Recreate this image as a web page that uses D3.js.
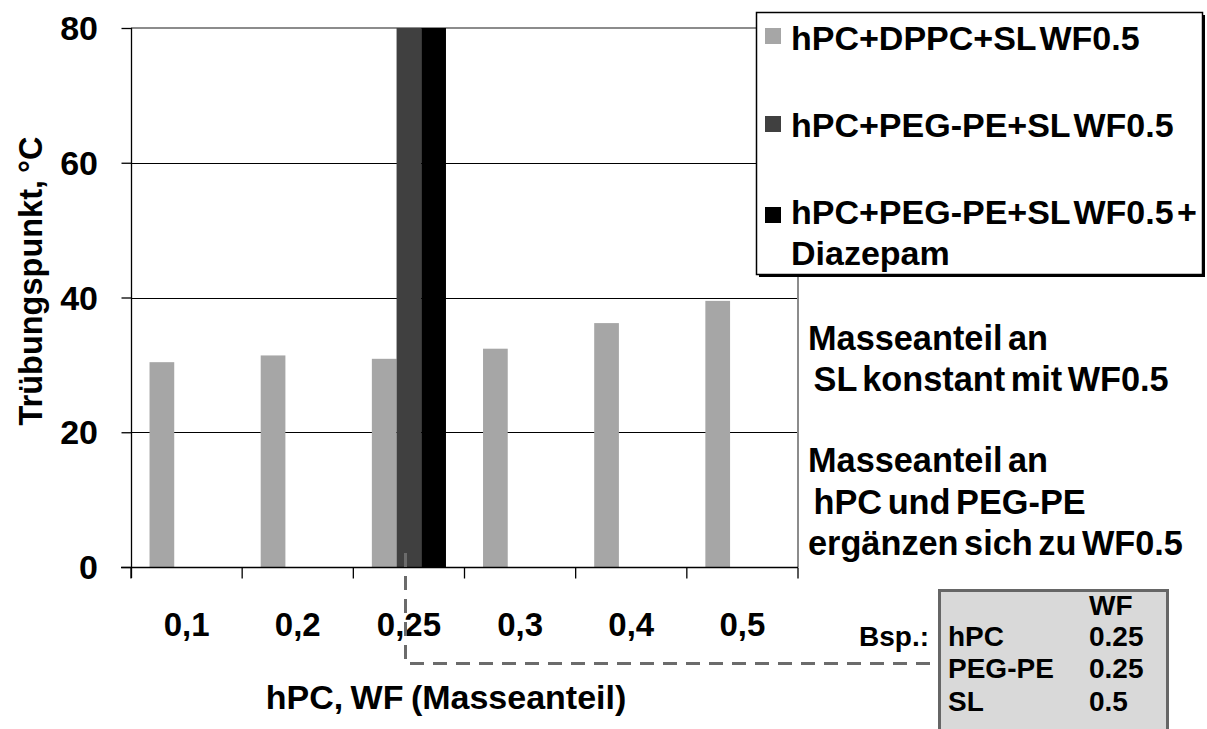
<!DOCTYPE html>
<html><head><meta charset="utf-8">
<script src="https://cdn.jsdelivr.net/npm/d3@7"></script>
<style>
html,body{margin:0;padding:0;background:#fff;}
svg{display:block;font-family:"Liberation Sans",Arial,sans-serif;font-weight:bold;}
</style></head>
<body>
<svg id="chart" width="1207" height="729"></svg>
<script>
const categories = ["0,1","0,2","0,25","0,3","0,4","0,5"];
const seriesNames = ["hPC+DPPC+SL WF0.5","hPC+PEG-PE+SL WF0.5","hPC+PEG-PE+SL WF0.5 + Diazepam"];
const dpccValues = [30.4, 31.4, 30.9, 32.4, 36.2, 39.5];
const pegValues = [null, null, 80, null, null, null];
const diazValues = [null, null, 80, null, null, null];
const seriesColors = ["#a6a6a6","#404040","#000000"];
const yTicks = [0,20,40,60,80];
const yTitle = "Trübungspunkt, °C";
const xTitle = "hPC, WF (Masseanteil)";
const notes = ["Masseanteil an"," SL konstant mit WF0.5","Masseanteil an"," hPC und PEG-PE","ergänzen sich zu WF0.5"];
const tableHeader = ["", "WF"];
const tableRows = [["hPC","0.25"],["PEG-PE","0.25"],["SL","0.5"]];
const exampleLabel = "Bsp.:";

(function(){
const svg = d3.select("#chart");
function stext(parent, x, y, str, size, anchor, ws){
  return parent.append("text").attr("x",x).attr("y",y).attr("font-size",size)
    .attr("text-anchor",anchor||"start").attr("fill","#000")
    .attr("word-spacing", ws==null ? -3 : ws)
    .attr("xml:space","preserve").text(str);
}

const pL = 131, pR = 798, pT = 28, pB = 567;
const x = d3.scaleBand().domain(categories).range([pL, pR]).paddingInner(0).paddingOuter(0);
const bw = x.bandwidth();
const gap = bw * 1.5 / 4.5;
const xs = d3.scaleBand().domain(d3.range(3)).range([gap/2, bw - gap/2]);
const y = d3.scaleLinear().domain([0,80]).range([pB, pT]);

// gridlines
svg.append("g").selectAll("line").data(yTicks.filter(t => t>0 && t<80)).join("line")
  .attr("x1", pL).attr("x2", pR).attr("y1", d=>Math.round(y(d))+0.5).attr("y2", d=>Math.round(y(d))+0.5)
  .attr("stroke","#000").attr("stroke-width",1);
// plot area border (top & right)
svg.append("path").attr("d",`M${pL},${y(80)}H${pR}V${pB}`).attr("fill","none")
  .attr("stroke","#8c8c8c").attr("stroke-width",2);

// bars
const allSeries = [dpccValues, pegValues, diazValues];
allSeries.forEach((vals, si) => {
  svg.append("g").selectAll("rect").data(categories.map((c,i)=>({c, v: vals[i]})).filter(d=>d.v!=null)).join("rect")
    .attr("x", d => x(d.c) + xs(si)).attr("width", xs.bandwidth())
    .attr("y", d => y(d.v)).attr("height", d => y(0) - y(d.v))
    .attr("fill", seriesColors[si]);
});

// y axis
const yAxis = d3.axisLeft(y).tickValues(yTicks).tickSize(10).tickFormat("");
const ya = svg.append("g").attr("transform",`translate(${pL+0.5},0)`).call(yAxis);
ya.select(".domain").attr("d",`M0,${pT}V${pB+11}`).attr("stroke","#000").attr("stroke-width",1.3);
ya.selectAll(".tick line").attr("stroke","#000").attr("stroke-width",1.3);
yTicks.forEach(t => stext(svg, 98, y(t)+12, String(t), 34, "end"));

// x axis
const xa = svg.append("g").attr("transform",`translate(0,${pB+0.5})`);
const bounds = categories.map(c => x(c)).concat([pR]);
xa.append("line").attr("x1", pL-10).attr("x2", pR).attr("y1",0).attr("y2",0).attr("stroke","#000").attr("stroke-width",1.3);
xa.selectAll("line.tk").data(bounds).join("line").attr("class","tk")
  .attr("x1",d=>d).attr("x2",d=>d).attr("y1",0).attr("y2",11).attr("stroke","#000").attr("stroke-width",1.3);
categories.forEach(c => stext(svg, x(c)+bw/2, 636, c, 33, "middle"));

// axis titles
stext(svg, 446, 709, xTitle, 34, "middle", -2);
svg.append("text").attr("transform","translate(42,281) rotate(-90)")
  .attr("font-size",32.5).attr("text-anchor","middle").attr("word-spacing",-2).text(yTitle);

// dashed connector
svg.append("path").attr("d","M405.5,553V663.5H933").attr("fill","none")
  .attr("stroke","#6b6b6b").attr("stroke-width",3).attr("stroke-dasharray","14,9");

// legend
const lg = svg.append("g");
lg.append("rect").attr("x",759).attr("y",15).attr("width",446).attr("height",262).attr("fill","#000");
lg.append("rect").attr("x",756.5).attr("y",12.5).attr("width",446).attr("height",262).attr("fill","#fff").attr("stroke","#000").attr("stroke-width",1.5);
const legY = [50, 137, 224];
const mkY = [28, 116, 207];
seriesNames.forEach((n,i) => {
  lg.append("rect").attr("x",765).attr("y",mkY[i]).attr("width",16).attr("height",16).attr("fill",seriesColors[i]);
});
stext(lg, 791, legY[0], seriesNames[0], 34, "start", -6);
stext(lg, 791, legY[1], seriesNames[1], 34, "start", -6);
stext(lg, 791, legY[2], "hPC+PEG-PE+SL WF0.5 +", 34, "start", -6);
stext(lg, 791, 265, "Diazepam", 34, "start", -6);

// notes
const noteY = [350, 391, 472, 514, 555];
notes.forEach((n,i) => stext(svg, 808, noteY[i], n, 34.3, "start", -4));

// example table
svg.append("rect").attr("x",939.5).attr("y",590.5).attr("width",228).attr("height",160)
  .attr("fill","#d9d9d9").attr("stroke","#666").attr("stroke-width",3);
stext(svg, 929, 646, exampleLabel, 28, "end");
const rowY = [615, 646, 678, 711];
stext(svg, 1089, rowY[0], tableHeader[1], 28);
tableRows.forEach((r,i) => {
  stext(svg, 948, rowY[i+1], r[0], 28);
  stext(svg, 1089, rowY[i+1], r[1], 28);
});
})();
</script>
</body></html>
